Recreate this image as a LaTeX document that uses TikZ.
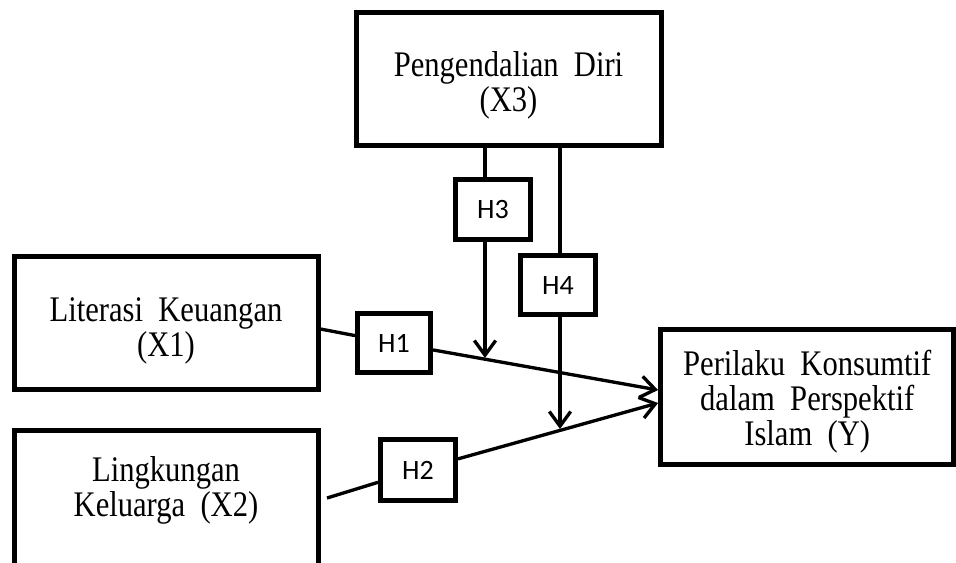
\documentclass[tikz,border=0pt]{standalone}
\usepackage{fontspec}
\setmainfont{Liberation Serif}[FakeStretch=0.85]
\newfontfamily\hfont{Carlito}
\usetikzlibrary{arrows.meta,calc}
\tikzset{
  varbox/.style={draw, line width=3.75pt, inner sep=0pt},
  vartext/.style={align=center, inner sep=0pt,
    font=\fontsize{27pt}{26.25pt}\selectfont},
  hbox/.style={draw, line width=3.75pt, inner sep=0pt,
    font=\hfont\fontsize{21pt}{24pt}\selectfont},
  conn/.style={line width=2.5pt},
  arr/.style={conn, -{Straight Barb[length=11pt,width=16pt,line width=2.5pt]}}
}
\begin{document}
\begin{tikzpicture}[x=0.75pt,y=-0.75pt]
\useasboundingbox (0,0) rectangle (956,562);
\clip (0,0) rectangle (956,562);
% variable boxes
\node[varbox, minimum width=228.75pt, minimum height=100pt] (X3) at (508.5,79.25) {};
\node[vartext] (X3t) at ($(X3)+(0,6)$) {Pengendalian\ \ Diri\\(X3)};
\node[varbox, minimum width=228pt, minimum height=99.75pt] (X1) at (166,322.5) {};
\node[vartext] (X1t) at ($(X1)+(0,8)$) {Literasi\ \ Keuangan\\(X1)};
\draw[line width=3.75pt] (14,600) -- (14,430.5) -- (318,430.5) -- (318,600);
\node[vartext] (X2) at (166,490.5) {Lingkungan\\Keluarga\ \ (X2)};
\node[varbox, minimum width=220pt, minimum height=101.25pt] (Y) at (807.25,397) {};
\node[vartext] (Yt) at ($(Y)+(0,4.5)$) {Perilaku\ \ Konsumtif\\dalam\ \ Perspektif\\Islam\ \ (Y)};
% hypothesis boxes
\node[hbox, minimum width=54.75pt, minimum height=44.25pt] (H1) at (394,343) {H1};
\node[hbox, minimum width=56.25pt, minimum height=45.75pt] (H2) at (418,470) {H2};
\node[hbox, minimum width=56.25pt, minimum height=45pt] (H3) at (493,209.5) {H3};
\node[hbox, minimum width=56.25pt, minimum height=44.25pt] (H4) at (558,285) {H4};
% points
\coordinate (a1) at ($(X1.east)+(0,6.5)$);
\coordinate (y1) at ($(Y.west)+(0,-7)$);
\coordinate (a2) at (327,498);
\coordinate (y2) at ($(Y.west)+(0,6)$);
\coordinate (m3) at (485,358);
\coordinate (m4) at (560,429);
% connectors
\draw[conn] (a1) -- (H1);
\draw[arr] (H1) -- (y1);
\draw[conn] (a2) -- (H2);
\draw[arr] (H2) -- (y2);
\draw[conn] (X3.south -| m3) -- (H3.north -| m3);
\draw[arr] (H3.south -| m3) -- (m3);
\draw[conn] (X3.south -| m4) -- (H4.north -| m4);
\draw[arr] (H4.south -| m4) -- (m4);
\end{tikzpicture}
\end{document}
